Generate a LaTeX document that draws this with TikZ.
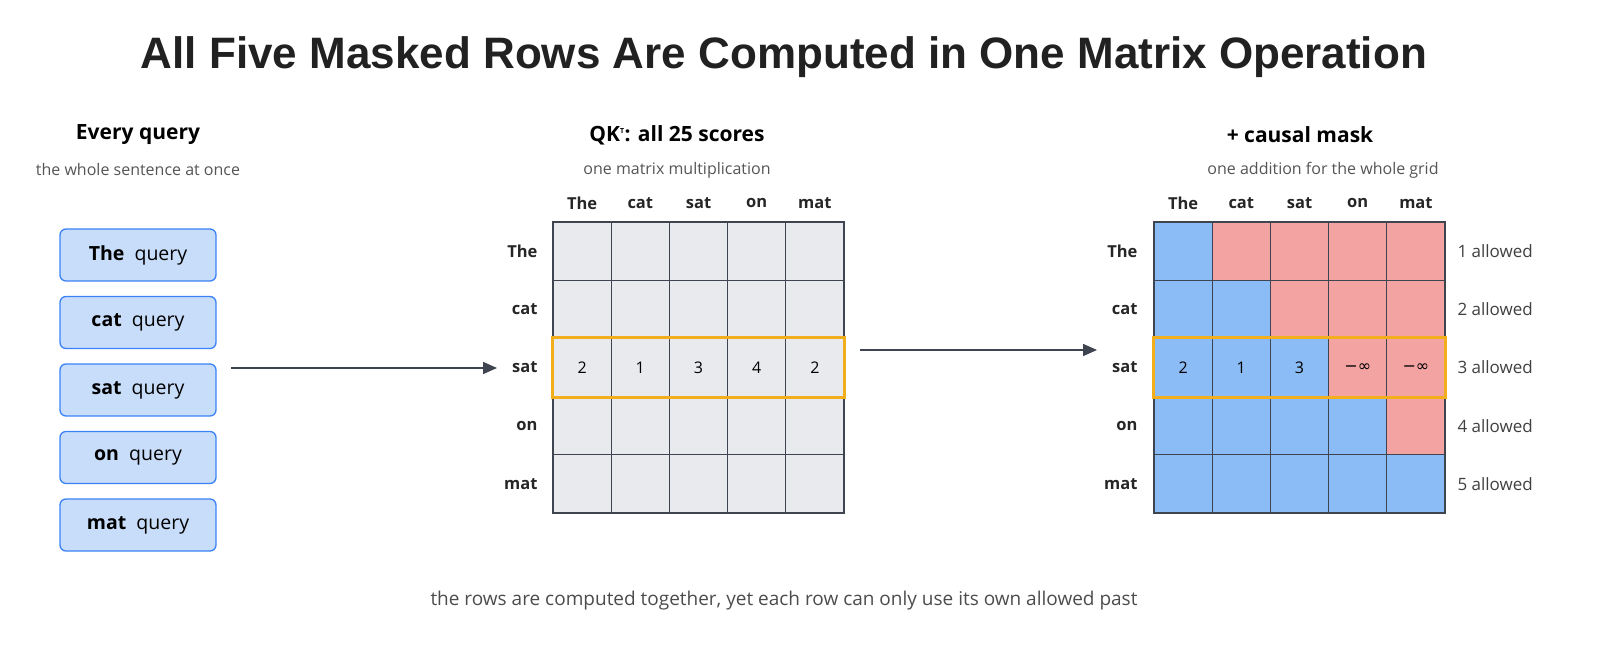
\documentclass[tikz,border=0pt]{standalone}
\usepackage{fontspec}
\setmainfont{Open Sans}
\newfontfamily\titlefont{Liberation Sans}
\newfontfamily\symfont{DejaVu Sans}
\usetikzlibrary{arrows.meta}
\definecolor{gcell}{HTML}{E9EAED}
\definecolor{bcell}{HTML}{8BBCF5}
\definecolor{rcell}{HTML}{F4A3A3}
\definecolor{edge}{HTML}{3F4451}
\definecolor{hl}{HTML}{F2AE1C}
\definecolor{qfill}{HTML}{C8DDFA}
\definecolor{qedge}{HTML}{3B82F6}
\definecolor{sub}{HTML}{555555}
\begin{document}
\begin{tikzpicture}[x=1pt,y=-1pt,
  cell/.style={draw=edge,line width=1.3pt,minimum size=58.2pt,inner sep=0pt,font=\fontsize{16}{19}\selectfont},
  q/.style={draw=qedge,fill=qfill,rounded corners=6pt,line width=1.3pt,minimum width=156pt,minimum height=52pt,font=\fontsize{19.5}{22}\selectfont},
  head/.style={font=\fontsize{21}{25}\selectfont\bfseries},
  subt/.style={text=sub,font=\fontsize{16}{19}\selectfont},
  lab/.style={font=\fontsize{16.5}{19}\selectfont\bfseries,text=black!85},
  al/.style={text=black!75,font=\fontsize{17}{20}\selectfont,anchor=west},
  arr/.style={draw=edge,line width=1.5pt,-{Triangle[length=14pt,width=12pt]}}]
\node[font=\titlefont\fontsize{44}{50}\selectfont\bfseries,text=black!87] (title) at (784,57) {All Five Masked Rows Are Computed in One Matrix Operation};
\node[head] (h1) at (138,135) {Every query};
\node[subt] (s1) at (138,170) {the whole sentence at once};
\node[head] (h2) at (677,135) {QK\textsuperscript{\scriptsize T}: all 25 scores};
\node[subt] (s2) at (677,170) {one matrix multiplication};
\node[head] (h3) at (1300,135) {+ causal mask};
\node[subt] (s3) at (1323,170) {one addition for the whole grid};
\foreach \w [count=\i from 0] in {The,cat,sat,on,mat}{
  \node[q] (q\i) at (138,{255+67.5*\i}) {\textbf{\w}\ \ query};
  \node[lab] (c1\i) at ({582.1+58.2*\i},203) {\w};
  \node[lab,anchor=east] (r1\i) at (541,{251.1+58.2*\i}) {\w};
  \node[lab] (c2\i) at ({1183.1+58.2*\i},203) {\w};
  \node[lab,anchor=east] (r2\i) at (1141,{251.1+58.2*\i}) {\w};
  \pgfmathtruncatemacro\n{\i+1}
  \node[al] (a\i) at (1454,{251.1+58.2*\i}) {\n\ allowed};
}
\foreach \r in {0,...,4}{\foreach \c in {0,...,4}{
  \node[cell,fill=gcell] (m\r\c) at ({582.1+58.2*\c},{251.1+58.2*\r}) {};
  \ifnum\c>\r \node[cell,fill=rcell] (k\r\c) at ({1183.1+58.2*\c},{251.1+58.2*\r}) {};
  \else \node[cell,fill=bcell] (k\r\c) at ({1183.1+58.2*\c},{251.1+58.2*\r}) {}; \fi
}}
\foreach \v [count=\c from 0] in {2,1,3,4,2}{\node[font=\fontsize{16}{19}\selectfont] at (m2\c) {\v};}
\foreach \v [count=\c from 0] in {2,1,3}{\node[font=\fontsize{16}{19}\selectfont] at (k2\c) {\v};}
\node[font=\symfont\fontsize{16}{19}\selectfont] at (k23) {−∞};
\node[font=\symfont\fontsize{16}{19}\selectfont] at (k24) {−∞};
\draw[hl,line width=3pt] (m20.north west) rectangle (m24.south east);
\draw[hl,line width=3pt] (k20.north west) rectangle (k24.south east);
\coordinate (a1s) at (231,368); \coordinate (a1e) at (497,368);
\coordinate (a2s) at (860,350); \coordinate (a2e) at (1097,350);
\draw[arr] (a1s) -- (a1e);
\draw[arr] (a2s) -- (a2e);
\node[text=black!70,font=\fontsize{19}{22}\selectfont] (foot) at (784,601) {the rows are computed together, yet each row can only use its own allowed past};
\pgfresetboundingbox
\useasboundingbox (0,0) rectangle (1600,660);
\end{tikzpicture}
\end{document}
